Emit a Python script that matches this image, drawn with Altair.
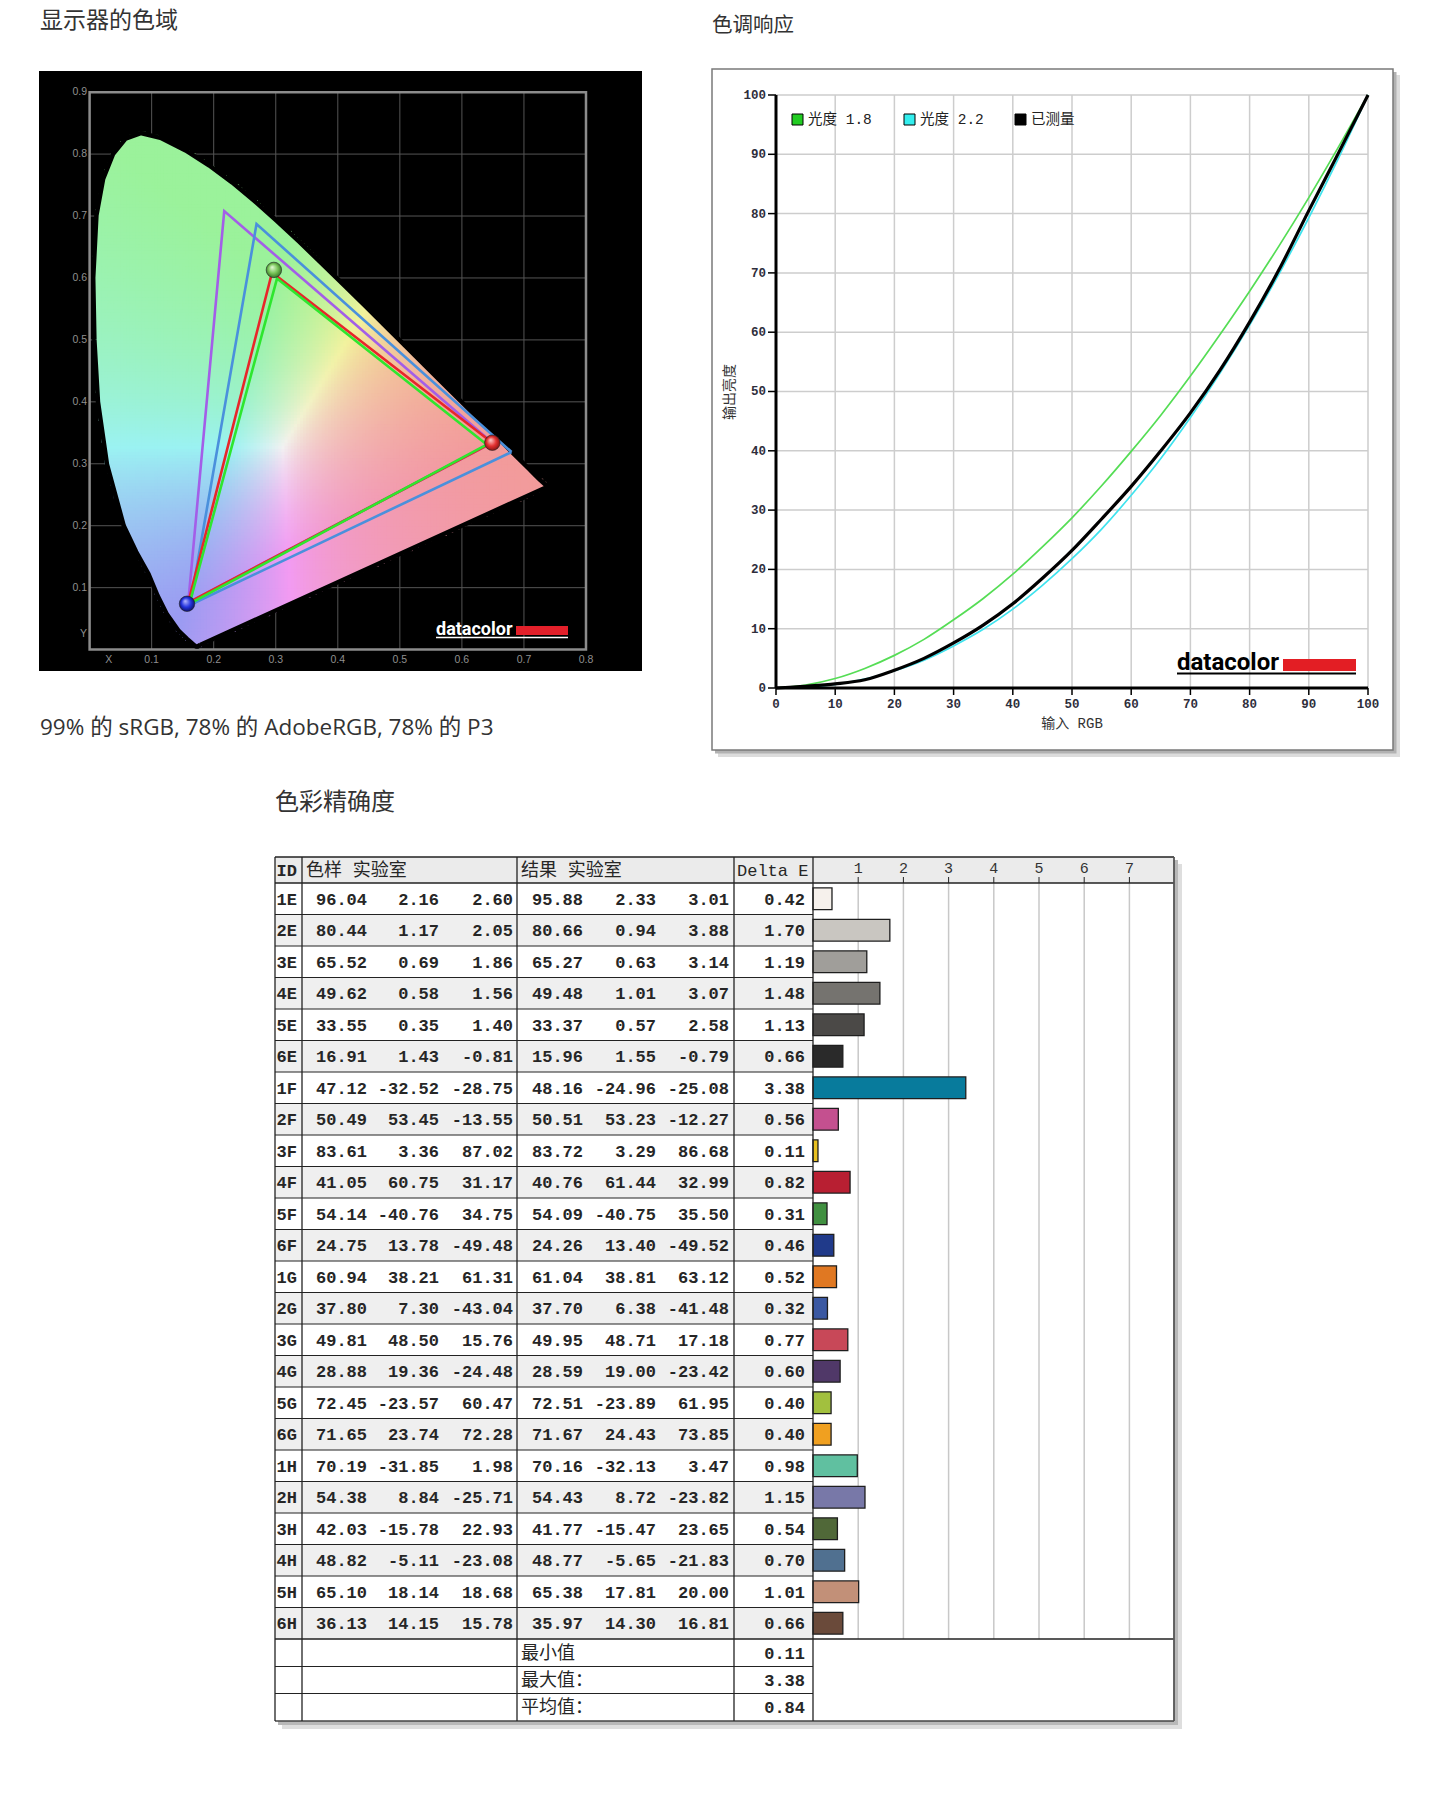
import altair as alt
import numpy as np
import pandas as pd

alt.data_transformers.disable_max_rows()

# ======================= DATA =======================
# ---- panel 1: gamut (CIE 1931 xy horseshoe outline, as drawn in the picture) ----
locus_x = [0.1780, 0.1741, 0.1714, 0.1689, 0.1644, 0.1566, 0.1440, 0.1241, 0.1096, 0.0950,
           0.0750, 0.0550, 0.0280, 0.0135, 0.0077, 0.0058, 0.0110, 0.0218, 0.0377, 0.0580,
           0.0824, 0.1142, 0.1547, 0.1929, 0.2296, 0.2658, 0.3016, 0.3373, 0.3731, 0.4087,
           0.4441, 0.4788, 0.5125, 0.5448, 0.5752, 0.6029, 0.6270, 0.6482, 0.6658, 0.6915,
           0.7079, 0.7190, 0.7260, 0.7380]
locus_y = [0.0075, 0.0050, 0.0051, 0.0069, 0.0109, 0.0177, 0.0297, 0.0578, 0.0868, 0.1220,
           0.1580, 0.2000, 0.2990, 0.4000, 0.5000, 0.6000, 0.7010, 0.7600, 0.8000, 0.8250,
           0.8340, 0.8262, 0.8059, 0.7816, 0.7543, 0.7243, 0.6923, 0.6589, 0.6245, 0.5896,
           0.5547, 0.5202, 0.4866, 0.4544, 0.4242, 0.3965, 0.3725, 0.3514, 0.3340, 0.3083,
           0.2920, 0.2809, 0.2740, 0.2630]

tri_names = ["AdobeRGB", "P3", "sRGB", "measured"]
tri_colors = ["#a35ee8", "#4a90dc", "#e8262a", "#2ee62e"]
tri_rx = [0.649, 0.680, 0.649, 0.640]
tri_ry = [0.334, 0.319, 0.334, 0.331]
tri_gx = [0.217, 0.269, 0.294, 0.302]
tri_gy = [0.708, 0.687, 0.609, 0.599]
tri_bx = [0.159, 0.162, 0.159, 0.161]
tri_by = [0.076, 0.072, 0.076, 0.074]

ball_x = [0.649, 0.297, 0.157]
ball_y = [0.334, 0.613, 0.074]

gam_xlabel_pos = [0.031, 0.1, 0.2, 0.3, 0.4, 0.5, 0.6, 0.7, 0.8]
gam_xlabels = ["X", "0.1", "0.2", "0.3", "0.4", "0.5", "0.6", "0.7", "0.8"]
gam_ylabel_pos = [0.025, 0.1, 0.2, 0.3, 0.4, 0.5, 0.6, 0.7, 0.8, 0.9]
gam_ylabels = ["Y", "0.1", "0.2", "0.3", "0.4", "0.5", "0.6", "0.7", "0.8", "0.9"]
gam_grid_x = [0.1, 0.2, 0.3, 0.4, 0.5, 0.6, 0.7]
gam_grid_y = [0.1, 0.2, 0.3, 0.4, 0.5, 0.6, 0.7, 0.8]
gam_xmax, gam_ymax = 0.8, 0.9
gamut_title = "显示器的色域"
gamut_caption = "99% 的 sRGB, 78% 的 AdobeRGB, 78% 的 P3"

# ---- panel 2: tone response ----
tone_in = [0, 5, 10, 15, 20, 25, 30, 35, 40, 45, 50, 55, 60, 65, 70, 75, 80, 85, 90, 95, 100]
gamma_18 = [0, 0.5, 1.6, 3.3, 5.5, 8.2, 11.5, 15.1, 19.2, 23.8, 28.7, 34.1, 39.9, 46.0, 52.6,
            59.6, 66.9, 74.6, 82.7, 91.2, 100]
gamma_22 = [0, 0.1, 0.6, 1.5, 2.9, 4.7, 7.1, 9.9, 13.3, 17.3, 21.8, 26.8, 32.5, 38.7, 45.6,
            53.1, 61.2, 69.9, 79.3, 89.3, 100]
measured = [0, 0.3, 0.7, 1.4, 3.0, 5.0, 7.6, 10.6, 14.2, 18.5, 23.2, 28.5, 34.0, 40.0, 46.4,
            53.6, 61.7, 70.6, 80.5, 90.2, 100]
tone_ticks = [0, 10, 20, 30, 40, 50, 60, 70, 80, 90, 100]
tone_grid = [10, 20, 30, 40, 50, 60, 70, 80, 90, 100]
legend_labels = ["光度 1.8", "光度 2.2", "已测量"]
legend_colors = ["#22cc22", "#33eeee", "#000000"]
tone_title = "色调响应"
tone_xtitle = "输入 RGB"
tone_ytitle = "输出亮度"

# ---- panel 3: colour accuracy table ----
ids = ["1E", "2E", "3E", "4E", "5E", "6E", "1F", "2F", "3F", "4F", "5F", "6F",
       "1G", "2G", "3G", "4G", "5G", "6G", "1H", "2H", "3H", "4H", "5H", "6H"]
ref_L = [96.04, 80.44, 65.52, 49.62, 33.55, 16.91, 47.12, 50.49, 83.61, 41.05, 54.14, 24.75,
         60.94, 37.80, 49.81, 28.88, 72.45, 71.65, 70.19, 54.38, 42.03, 48.82, 65.10, 36.13]
ref_a = [2.16, 1.17, 0.69, 0.58, 0.35, 1.43, -32.52, 53.45, 3.36, 60.75, -40.76, 13.78,
         38.21, 7.30, 48.50, 19.36, -23.57, 23.74, -31.85, 8.84, -15.78, -5.11, 18.14, 14.15]
ref_b = [2.60, 2.05, 1.86, 1.56, 1.40, -0.81, -28.75, -13.55, 87.02, 31.17, 34.75, -49.48,
         61.31, -43.04, 15.76, -24.48, 60.47, 72.28, 1.98, -25.71, 22.93, -23.08, 18.68, 15.78]
res_L = [95.88, 80.66, 65.27, 49.48, 33.37, 15.96, 48.16, 50.51, 83.72, 40.76, 54.09, 24.26,
         61.04, 37.70, 49.95, 28.59, 72.51, 71.67, 70.16, 54.43, 41.77, 48.77, 65.38, 35.97]
res_a = [2.33, 0.94, 0.63, 1.01, 0.57, 1.55, -24.96, 53.23, 3.29, 61.44, -40.75, 13.40,
         38.81, 6.38, 48.71, 19.00, -23.89, 24.43, -32.13, 8.72, -15.47, -5.65, 17.81, 14.30]
res_b = [3.01, 3.88, 3.14, 3.07, 2.58, -0.79, -25.08, -12.27, 86.68, 32.99, 35.50, -49.52,
         63.12, -41.48, 17.18, -23.42, 61.95, 73.85, 3.47, -23.82, 23.65, -21.83, 20.00, 16.81]
delta_e = [0.42, 1.70, 1.19, 1.48, 1.13, 0.66, 3.38, 0.56, 0.11, 0.82, 0.31, 0.46,
           0.52, 0.32, 0.77, 0.60, 0.40, 0.40, 0.98, 1.15, 0.54, 0.70, 1.01, 0.66]
patch_colors = ["#f6f1ec", "#c9c6c1", "#a09e9a", "#75736f", "#4b4947", "#2a2a2a",
                "#087b9c", "#c4508f", "#e8c020", "#b81f32", "#409040", "#203a8a",
                "#e07822", "#3a58a2", "#c84858", "#503868", "#a2c03e", "#f0a020",
                "#60c0a0", "#7878a8", "#506838", "#507090", "#c29078", "#6a4a3a"]
summary_labels = ["最小值", "最大值：", "平均值："]
summary_values = [0.11, 3.38, 0.84]
bar_ticks = [1, 2, 3, 4, 5, 6, 7]
table_title = "色彩精确度"
header_labels = ["ID", "色样 实验室", "结果 实验室", "Delta E"]

# ======================= STYLE =======================
CJK = "'Noto Sans CJK SC'"
MONO = "'Liberation Mono', 'Noto Sans CJK SC'"
UI = "'Open Sans', 'Noto Sans CJK SC'"


def one():
    return alt.Chart(pd.DataFrame({"k": [0]}))


def label(txt, x, y, size, font=CJK, color="#333333", align="left", baseline="alphabetic",
          weight="normal", angle=0):
    kw = dict(text=txt, font=font, fontSize=size, color=color, align=align,
              baseline=baseline, fontWeight=weight)
    if angle:
        kw["angle"] = angle
    return one().mark_text(**kw).encode(x=alt.value(x), y=alt.value(y))


def box(x0, x1, y0, y1, **mk):
    return one().mark_rect(**mk).encode(x=alt.value(x0), x2=alt.value(x1),
                                        y=alt.value(y0), y2=alt.value(y1))


def hline(y, x0, x1, color="#222222", w=1.0):
    return one().mark_rule(color=color, strokeWidth=w).encode(
        x=alt.value(x0), x2=alt.value(x1), y=alt.value(y))


def vline(x, y0, y1, color="#222222", w=1.0):
    return one().mark_rule(color=color, strokeWidth=w).encode(
        x=alt.value(x), y=alt.value(y0), y2=alt.value(y1))


# ======================= PANEL 1: GAMUT =======================
GW, GH = 696, 760
gxs = alt.Scale(domain=[-0.13151, 0.99017], nice=False, zero=False)
gys = alt.Scale(domain=[-0.19115, 1.03584], nice=False, zero=False)


def inside(px, py, vx, vy):
    res = np.zeros(px.shape, dtype=bool)
    n = len(vx)
    j = n - 1
    for i in range(n):
        xi, yi, xj, yj = vx[i], vy[i], vx[j], vy[j]
        cond = ((yi > py) != (yj > py)) & (px < (xj - xi) * (py - yi) / (yj - yi + 1e-12) + xi)
        res ^= cond
        j = i
    return res


# colour backdrop of the chromaticity diagram (xy -> sRGB, lightened)
step = 0.005
cx, cy = np.meshgrid(np.arange(step / 2, 0.745, step), np.arange(step / 2, 0.84, step))
cx, cy = cx.ravel(), cy.ravel()
m = inside(cx, cy, locus_x, locus_y)
cx, cy = cx[m], cy[m]
Xc = cx / cy
Zc = (1 - cx - cy) / cy
rgb = np.vstack([3.2406 * Xc - 1.5372 - 0.4986 * Zc,
                 -0.9689 * Xc + 1.8758 + 0.0415 * Zc,
                 0.0557 * Xc - 0.2040 + 1.0570 * Zc])
rgb = np.clip(rgb, 0, None)
rgb = rgb / rgb.max(axis=0)
rgb = 0.95 * (0.64 + 0.36 * rgb)
hexs = ["#%02x%02x%02x" % tuple(int(round(v * 255)) for v in col) for col in rgb.T]
pad = 0.0009
df_raster = pd.DataFrame({
    "x0": np.round(cx - step / 2 - pad, 5), "x1": np.round(cx + step / 2 + pad, 5),
    "y0": np.round(cy - step / 2 - pad, 5), "y1": np.round(cy + step / 2 + pad, 5),
    "c": hexs})

g_layers = []
g_layers.append(label(gamut_title, 32, 19.5, 23))
g_layers.append(box(31, 634, 63, 663, color="black"))
g_layers.append(alt.Chart(pd.DataFrame({"v": gam_grid_x})).mark_rule(color="#555555", strokeWidth=1).encode(
    x=alt.X("v:Q", scale=gxs, axis=None),
    y=alt.YDatum(0, scale=gys, axis=None), y2=alt.Y2Datum(gam_ymax)))
g_layers.append(alt.Chart(pd.DataFrame({"v": gam_grid_y})).mark_rule(color="#555555", strokeWidth=1).encode(
    y=alt.Y("v:Q", scale=gys, axis=None),
    x=alt.XDatum(0, scale=gxs, axis=None), x2=alt.X2Datum(gam_xmax)))
g_layers.append(one().mark_rect(fillOpacity=0, stroke="#8c8c8c", strokeWidth=2.5).encode(
    x=alt.XDatum(0, scale=gxs, axis=None), x2=alt.X2Datum(gam_xmax),
    y=alt.YDatum(0, scale=gys, axis=None), y2=alt.Y2Datum(gam_ymax)))
g_layers.append(alt.Chart(df_raster).mark_rect(strokeWidth=0).encode(
    x=alt.X("x0:Q", scale=gxs, axis=None), x2="x1:Q",
    y=alt.Y("y0:Q", scale=gys, axis=None), y2="y1:Q",
    color=alt.Color("c:N", scale=None)))
df_loc = pd.DataFrame({"x": locus_x + locus_x[:1], "y": locus_y + locus_y[:1],
                       "o": list(range(len(locus_x) + 1))})
g_layers.append(alt.Chart(df_loc).mark_line(color="black", strokeWidth=4.5, strokeJoin="round").encode(
    x=alt.X("x:Q", scale=gxs, axis=None), y=alt.Y("y:Q", scale=gys, axis=None),
    order="o:Q"))
for k in range(len(tri_names)):
    df_t = pd.DataFrame({"x": [tri_rx[k], tri_gx[k], tri_bx[k], tri_rx[k]],
                         "y": [tri_ry[k], tri_gy[k], tri_by[k], tri_ry[k]],
                         "o": [0, 1, 2, 3]})
    g_layers.append(alt.Chart(df_t).mark_line(color=tri_colors[k], strokeWidth=2.6).encode(
        x=alt.X("x:Q", scale=gxs, axis=None), y=alt.Y("y:Q", scale=gys, axis=None),
        order="o:Q"))
ball_grads = [("#ffd0d0", "#e43030", "#7a1010"),
              ("#e4fbd8", "#78c458", "#2c6a22"),
              ("#b8b8ff", "#2434e0", "#0c0c5a")]
for k in range(3):
    lt, md, dk = ball_grads[k]
    grad = {"gradient": "radial", "x1": 0.38, "y1": 0.32, "r1": 0.0,
            "x2": 0.5, "y2": 0.5, "r2": 0.55,
            "stops": [{"offset": 0, "color": lt}, {"offset": 0.55, "color": md},
                      {"offset": 1, "color": dk}]}
    g_layers.append(alt.Chart(pd.DataFrame({"x": [ball_x[k]], "y": [ball_y[k]]})).mark_circle(
        size=240, fill=grad, opacity=1, stroke="#222222", strokeWidth=0.6).encode(
        x=alt.X("x:Q", scale=gxs, axis=None), y=alt.Y("y:Q", scale=gys, axis=None)))
g_layers.append(alt.Chart(pd.DataFrame({"v": gam_xlabel_pos, "l": gam_xlabels})).mark_text(
    font="'Liberation Sans'", fontSize=10.5, color="#8f8f8f", align="center", baseline="middle").encode(
    x=alt.X("v:Q", scale=gxs, axis=None), y=alt.value(652), text="l:N"))
g_layers.append(alt.Chart(pd.DataFrame({"v": gam_ylabel_pos, "l": gam_ylabels})).mark_text(
    font="'Liberation Sans'", fontSize=10.5, color="#8f8f8f", align="right", baseline="middle").encode(
    y=alt.Y("v:Q", scale=gys, axis=None), x=alt.value(79), text="l:N"))
g_layers.append(label("datacolor", 428, 627, 18, font="Roboto", color="white", weight="bold"))
g_layers.append(box(508, 560, 618, 627, color="#e3202a"))
g_layers.append(hline(629.5, 428, 560, color="white", w=1.5))
g_layers.append(label(gamut_caption, 32, 727, 22.5, font=UI, color="#333333"))

G = alt.layer(*g_layers).properties(width=GW, height=GH)

# ======================= PANEL 2: TONE RESPONSE =======================
TW, TH = 728, 760
txs = alt.Scale(domain=[-12.162, 110.81], nice=False, zero=False)
tys = alt.Scale(domain=[-13.49, 114.67], nice=False, zero=False)
df_tone = pd.DataFrame({"x": tone_in, "g18": gamma_18, "g22": gamma_22, "m": measured})
df_tt = pd.DataFrame({"v": tone_ticks, "l": [str(v) for v in tone_ticks]})
df_tg = pd.DataFrame({"v": tone_grid})

t_layers = []
t_layers.append(label(tone_title, 8, 24, 20.5))
t_layers.append(box(14, 696, 67, 749, color="#dcdcdc"))
t_layers.append(box(11, 692.5, 64, 745.5, color="#b2b2b2"))
t_layers.append(box(8, 689, 61, 742, fill="white", stroke="#7a7a7a", strokeWidth=1.5))
t_layers.append(alt.Chart(df_tg).mark_rule(color="#cdcdcd", strokeWidth=1.5).encode(
    x=alt.X("v:Q", scale=txs, axis=None),
    y=alt.YDatum(0, scale=tys, axis=None), y2=alt.Y2Datum(100)))
t_layers.append(alt.Chart(df_tg).mark_rule(color="#cdcdcd", strokeWidth=1.5).encode(
    y=alt.Y("v:Q", scale=tys, axis=None),
    x=alt.XDatum(0, scale=txs, axis=None), x2=alt.X2Datum(100)))
for fld, col, w in [("g18", "#55dd55", 1.7), ("g22", "#3fe3ee", 1.7), ("m", "#000000", 3.2)]:
    t_layers.append(alt.Chart(df_tone).mark_line(color=col, strokeWidth=w, interpolate="monotone").encode(
        x=alt.X("x:Q", scale=txs, axis=None), y=alt.Y(f"{fld}:Q", scale=tys, axis=None)))
t_layers.append(one().mark_rule(color="black", strokeWidth=3).encode(
    x=alt.XDatum(0, scale=txs, axis=None),
    y=alt.YDatum(0, scale=tys, axis=None), y2=alt.Y2Datum(100)))
t_layers.append(one().mark_rule(color="black", strokeWidth=3).encode(
    y=alt.YDatum(0, scale=tys, axis=None),
    x=alt.XDatum(0, scale=txs, axis=None), x2=alt.X2Datum(100)))
t_layers.append(alt.Chart(df_tt).mark_rule(color="black", strokeWidth=1.5).encode(
    y=alt.Y("v:Q", scale=tys, axis=None), x=alt.value(64), x2=alt.value(72)))
t_layers.append(alt.Chart(df_tt).mark_rule(color="black", strokeWidth=1.5).encode(
    x=alt.X("v:Q", scale=txs, axis=None), y=alt.value(680), y2=alt.value(687)))
t_layers.append(alt.Chart(df_tt).mark_text(font="'Liberation Mono'", fontSize=12.5, color="#2e2e3c",
                                           fontWeight="bold", align="right", baseline="middle").encode(
    y=alt.Y("v:Q", scale=tys, axis=None), x=alt.value(62), text="l:N"))
t_layers.append(alt.Chart(df_tt).mark_text(font="'Liberation Mono'", fontSize=12.5, color="#2e2e3c",
                                           fontWeight="bold", align="center", baseline="middle").encode(
    x=alt.X("v:Q", scale=txs, axis=None), y=alt.value(696), text="l:N"))
for k, sx in enumerate([88, 200, 311]):
    t_layers.append(box(sx, sx + 11, 106, 117, color=legend_colors[k], stroke="black", strokeWidth=1))
    t_layers.append(label(legend_labels[k], sx + 16, 112, 14.5, font=MONO, color="#222222",
                          baseline="middle"))
t_layers.append(label("datacolor", 473, 662, 24, font="Roboto", color="black", weight="bold"))
t_layers.append(box(579, 652, 651, 663, color="#e31e24"))
t_layers.append(hline(665.5, 473, 652, color="black", w=2))
t_layers.append(label(tone_xtitle, 368, 716, 14, font=MONO, color="#333333", align="center",
                      baseline="middle"))
t_layers.append(label(tone_ytitle, 26, 384, 14, font=CJK, color="#333333", align="center",
                      baseline="middle", angle=270))

T = alt.layer(*t_layers).properties(width=TW, height=TH)

# ======================= PANEL 3: TABLE =======================
BW, BH = 1180, 970
bxs = alt.Scale(domain=[-805 / 45.2, (BW - 805) / 45.2], nice=False, zero=False)
bys = alt.Scale(domain=[-130.75 / 31.5, (BH - 130.75) / 31.5], nice=False, zero=False, reverse=True)


def f2(vals):
    return [f"{v:.2f}" for v in vals]


df_tab = pd.DataFrame({"i": list(range(len(ids))), "id": ids,
                       "rL": f2(ref_L), "ra": f2(ref_a), "rb": f2(ref_b),
                       "sL": f2(res_L), "sa": f2(res_a), "sb": f2(res_b),
                       "dE": delta_e, "dEs": f2(delta_e), "col": patch_colors})
L, C1, C2, C3, C4, R = 267, 294, 509, 726, 805, 1166
TOP, HB, DB, BOT = 89, 115, 871, 953
sum_y = [884.75, 912, 939.25]
TXT = "#262626"

b_layers = []
b_layers.append(label(table_title, 267, 42, 24))
b_layers.append(box(L + 7, R + 8, TOP + 7, BOT + 8, color="#dedede"))
b_layers.append(box(L + 3, R + 4, TOP + 3, BOT + 4, color="#b8b8b8"))
b_layers.append(box(L, R, TOP, BOT, color="white"))
b_layers.append(box(L, R, TOP, HB, color="#ebebeb"))
b_layers.append(alt.Chart(df_tab).transform_filter("datum.i % 2 == 1").transform_calculate(
    t="datum.i - 0.5", b="datum.i + 0.5").mark_rect(color="#efefef").encode(
    x=alt.value(L), x2=alt.value(C4),
    y=alt.Y("t:Q", scale=bys, axis=None), y2="b:Q"))
b_layers.append(alt.Chart(pd.DataFrame({"v": bar_ticks})).mark_rule(color="#c8c8c8", strokeWidth=1.5).encode(
    x=alt.X("v:Q", scale=bxs, axis=None), y=alt.value(HB), y2=alt.value(DB)))
b_layers.append(alt.Chart(df_tab).transform_calculate(
    z="0", t="datum.i - 0.345", b="datum.i + 0.345").mark_rect(stroke="#1e1e1e", strokeWidth=1.3).encode(
    x=alt.X("z:Q", scale=bxs, axis=None), x2="dE:Q",
    y=alt.Y("t:Q", scale=bys, axis=None), y2="b:Q",
    fill=alt.Fill("col:N", scale=None)))
b_layers.append(alt.Chart(df_tab).transform_filter("datum.i < 23").transform_calculate(
    s="datum.i + 0.5").mark_rule(color="#222222", strokeWidth=1).encode(
    x=alt.value(L), x2=alt.value(C4), y=alt.Y("s:Q", scale=bys, axis=None)))
for yy in [TOP, HB, DB]:
    b_layers.append(hline(yy, L, R, w=1.3))
b_layers.append(hline(BOT, L, R, w=1.3, color="#444444"))
for yy in [898.5, 925.5]:
    b_layers.append(hline(yy, L, C4, w=1.2))
for xx in [L, C1, C2, C3, C4]:
    b_layers.append(vline(xx, TOP, BOT, w=1.3))
b_layers.append(vline(R, TOP, BOT, w=1.8, color="#555555"))
b_layers.append(alt.Chart(pd.DataFrame({"v": bar_ticks})).mark_rule(color="#222222", strokeWidth=1).encode(
    x=alt.X("v:Q", scale=bxs, axis=None), y=alt.value(109), y2=alt.value(HB)))
b_layers.append(alt.Chart(pd.DataFrame({"v": bar_ticks, "l": [str(v) for v in bar_ticks]})).mark_text(
    font="'Liberation Mono'", fontSize=15, color="#333333", align="center", baseline="middle").encode(
    x=alt.X("v:Q", scale=bxs, axis=None), y=alt.value(100), text="l:N"))
cols = [("id", 268.5, "left"), ("rL", 359, "right"), ("ra", 431, "right"), ("rb", 505, "right"),
        ("sL", 575, "right"), ("sa", 648, "right"), ("sb", 721, "right"), ("dEs", 797, "right")]
for fld, px, al in cols:
    b_layers.append(alt.Chart(df_tab).mark_text(font=MONO, fontSize=17, color=TXT, fontWeight="bold",
                                                align=al, baseline="middle", dy=1).encode(
        x=alt.value(px), y=alt.Y("i:Q", scale=bys, axis=None), text=f"{fld}:N"))
b_layers.append(label(header_labels[0], 268.5, 103, 17, font=MONO, color=TXT, baseline="middle",
                      weight="bold"))
for txt, px in zip(header_labels[1:3], [298, 513]):
    b_layers.append(label(txt, px, 103, 18, font=MONO, color=TXT, baseline="middle"))
b_layers.append(label(header_labels[3], 729, 103, 17, font=MONO, color=TXT, baseline="middle"))
for k in range(3):
    b_layers.append(label(summary_labels[k], 513, sum_y[k] + 1, 18, font=MONO, color=TXT,
                          baseline="middle"))
    b_layers.append(label(f"{summary_values[k]:.2f}", 797, sum_y[k] + 1, 17, font=MONO,
                          color=TXT, align="right", baseline="middle", weight="bold"))

B = alt.layer(*b_layers).properties(width=BW, height=BH)

# ======================= COMPOSE =======================
top = alt.hconcat(G, T, spacing=0)
chart = alt.vconcat(top, B, spacing=0).properties(padding=0).configure_view(
    strokeWidth=0)

chart.save("out.html", embed_options={"renderer": "svg", "actions": False})
